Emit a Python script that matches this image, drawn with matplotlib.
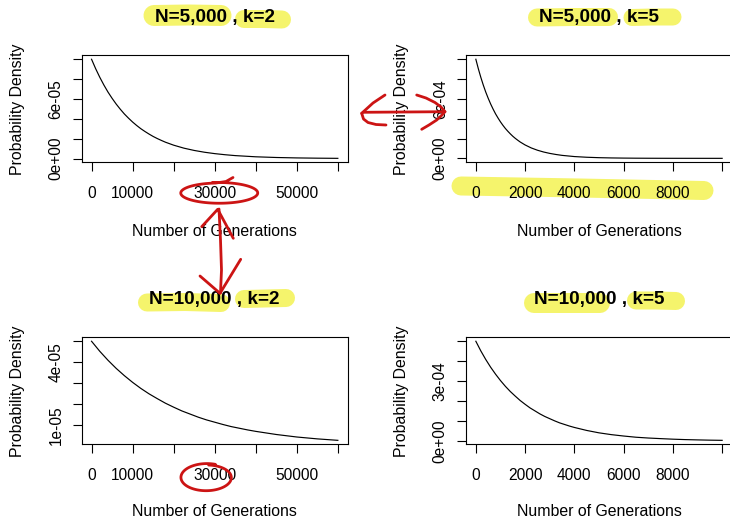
import numpy as np
import matplotlib
matplotlib.use("Agg")
import matplotlib.pyplot as plt

plt.rcParams["font.family"] = ["Liberation Sans", "DejaVu Sans"]

# coalescence-time densities, sampled at a set of generations
gens_n5k_k2 = [0, 1000, 2000, 3000, 4000, 5000, 6000, 7000, 8000, 9000, 10000,
               11000, 12000, 13000, 14000, 15000, 16000, 17000, 18000, 19000, 20000,
               22500, 25000, 27500, 30000, 32500, 35000, 37500, 40000,
               45000, 50000, 55000, 60000]
dens_n5k_k2 = [1.000e-4, 9.05e-5, 8.19e-5, 7.41e-5, 6.70e-5, 6.07e-5, 5.49e-5,
               4.97e-5, 4.49e-5, 4.07e-5, 3.68e-5, 3.33e-5, 3.01e-5, 2.73e-5,
               2.47e-5, 2.23e-5, 2.02e-5, 1.83e-5, 1.65e-5, 1.50e-5, 1.35e-5,
               1.05e-5, 8.2e-6, 6.4e-6, 5.0e-6, 3.9e-6, 3.0e-6, 2.4e-6, 1.8e-6,
               1.1e-6, 6.7e-7, 4.1e-7, 2.5e-7]

gens_n5k_k5 = [0, 100, 200, 300, 400, 500, 600, 700, 800, 900, 1000,
               1100, 1200, 1300, 1400, 1500, 1600, 1700, 1800, 1900, 2000,
               2250, 2500, 2750, 3000, 3250, 3500, 3750, 4000,
               4500, 5000, 5500, 6000, 6500, 7000, 7500, 8000, 8500, 9000,
               9500, 10000]
dens_n5k_k5 = [1.000e-3, 9.05e-4, 8.19e-4, 7.41e-4, 6.70e-4, 6.07e-4, 5.49e-4,
               4.97e-4, 4.49e-4, 4.07e-4, 3.68e-4, 3.33e-4, 3.01e-4, 2.73e-4,
               2.47e-4, 2.23e-4, 2.02e-4, 1.83e-4, 1.65e-4, 1.50e-4, 1.35e-4,
               1.05e-4, 8.2e-5, 6.4e-5, 5.0e-5, 3.9e-5, 3.0e-5, 2.4e-5, 1.8e-5,
               1.1e-5, 6.7e-6, 4.1e-6, 2.5e-6, 1.5e-6, 9e-7, 5.5e-7, 3.4e-7,
               2.0e-7, 1.2e-7, 7e-8, 4.5e-8]

gens_n10k_k2 = [0, 2000, 4000, 6000, 8000, 10000, 12000, 14000, 16000, 18000,
                20000, 22000, 24000, 26000, 28000, 30000, 32000, 34000, 36000,
                38000, 40000, 45000, 50000, 55000, 60000]
dens_n10k_k2 = [5.00e-5, 4.52e-5, 4.09e-5, 3.70e-5, 3.35e-5, 3.03e-5, 2.74e-5,
                2.48e-5, 2.25e-5, 2.03e-5, 1.84e-5, 1.66e-5, 1.51e-5, 1.36e-5,
                1.23e-5, 1.12e-5, 1.01e-5, 9.1e-6, 8.3e-6, 7.5e-6, 6.8e-6,
                5.3e-6, 4.1e-6, 3.2e-6, 2.5e-6]

gens_n10k_k5 = [0, 200, 400, 600, 800, 1000, 1200, 1400, 1600, 1800, 2000,
                2200, 2400, 2600, 2800, 3000, 3200, 3400, 3600, 3800, 4000,
                4500, 5000, 5500, 6000, 6500, 7000, 7500, 8000, 8500, 9000,
                9500, 10000]
dens_n10k_k5 = [5.00e-4, 4.52e-4, 4.09e-4, 3.70e-4, 3.35e-4, 3.03e-4, 2.74e-4,
                2.48e-4, 2.25e-4, 2.03e-4, 1.84e-4, 1.66e-4, 1.51e-4, 1.36e-4,
                1.23e-4, 1.12e-4, 1.01e-4, 9.1e-5, 8.3e-5, 7.5e-5, 6.8e-5,
                5.3e-5, 4.1e-5, 3.2e-5, 2.5e-5, 1.9e-5, 1.5e-5, 1.2e-5, 9.2e-6,
                7.1e-6, 5.6e-6, 4.3e-6, 3.4e-6]

titles = ["N=5,000 , k=2", "N=5,000 , k=5", "N=10,000 , k=2", "N=10,000 , k=5"]

xticks_long = [0, 10000, 20000, 30000, 40000, 50000, 60000]
xlabels_long = ["0", "10000", "", "30000", "", "50000", ""]
xticks_short = [0, 2000, 4000, 6000, 8000, 10000]
xlabels_short = ["0", "2000", "4000", "6000", "8000", ""]

yticks_n5k_k2 = [0, 2e-5, 4e-5, 6e-5, 8e-5, 1e-4]
ylabels_n5k_k2 = ["0e+00", "", "", "6e-05", "", ""]
yticks_n5k_k5 = [0, 2e-4, 4e-4, 6e-4, 8e-4, 1e-3]
ylabels_n5k_k5 = ["0e+00", "", "", "6e-04", "", ""]
yticks_n10k_k2 = [1e-5, 2e-5, 3e-5, 4e-5, 5e-5]
ylabels_n10k_k2 = ["1e-05", "", "", "4e-05", ""]
yticks_n10k_k5 = [0, 1e-4, 2e-4, 3e-4, 4e-4, 5e-4]
ylabels_n10k_k5 = ["0e+00", "", "", "3e-04", "", ""]

W, H = 730, 519
fig = plt.figure(figsize=(W / 100, H / 100), dpi=100)


def r_lim(vals):
    # base-R style axis range: data range plus 4% each side
    lo, hi = min(vals), max(vals)
    pad = 0.04 * (hi - lo)
    return lo - pad, hi + pad


def draw_panel(rect, x, y, title, xticks, xlabels, yticks, ylabels, xlab_y=-0.575):
    ax = fig.add_axes(rect)
    ax.plot(x, y, color="black", lw=0.85)
    ax.set_xlim(*r_lim(x))
    ax.set_ylim(*r_lim(y))
    ax.set_xticks(xticks, xlabels)
    ax.set_yticks(yticks, ylabels)
    plt.setp(ax.get_yticklabels(), rotation=90, va="center")
    ax.tick_params(direction="out", length=6.3, width=0.8, labelsize=11.2)
    ax.tick_params(axis="x", pad=10.5)
    ax.tick_params(axis="y", pad=6.8)
    for s in ax.spines.values():
        s.set_linewidth(0.8)
    ax.set_title(title, fontsize=13.6, fontweight="bold", pad=23.7)
    ax.set_xlabel("Number of Generations", fontsize=11.4)
    ax.xaxis.set_label_coords(0.5, xlab_y)
    ax.set_ylabel("Probability Density", fontsize=11.4, va="center")
    ax.yaxis.set_label_coords(-0.2425, 0.5)
    return ax


aw, ah = 266 / W, 107 / H
left_l, left_r = 81.7 / W, 466 / W
bot_top, bot_bot = 1 - 162.3 / H, 1 - 444.3 / H

draw_panel([left_l, bot_top, aw, ah], gens_n5k_k2, dens_n5k_k2, titles[0],
           xticks_long, xlabels_long, yticks_n5k_k2, ylabels_n5k_k2)
draw_panel([left_r, bot_top, aw, ah], gens_n5k_k5, dens_n5k_k5, titles[1],
           xticks_short, xlabels_short, yticks_n5k_k5, ylabels_n5k_k5)
# bottom row: axis title nudged up so it stays inside the canvas
draw_panel([left_l, bot_bot, aw, ah], gens_n10k_k2, dens_n10k_k2, titles[2],
           xticks_long, xlabels_long, yticks_n10k_k2, ylabels_n10k_k2, xlab_y=-0.555)
draw_panel([left_r, bot_bot, aw, ah], gens_n10k_k5, dens_n10k_k5, titles[3],
           xticks_short, xlabels_short, yticks_n10k_k5, ylabels_n10k_k5, xlab_y=-0.555)

# highlighter strokes sit underneath the text, pen marks on top
under = fig.add_axes([0, 0, 1, 1], zorder=-1)
over = fig.add_axes([0, 0, 1, 1], zorder=10)
for a in (under, over):
    a.set_xlim(0, W)
    a.set_ylim(H, 0)
    a.axis("off")

yellow = "#f5f46c"
strokes = [
    ([154, 188, 221], [15.5, 15, 15.5], 21),
    ([244, 264, 282], [19, 19, 19.5], 18),
    ([537, 573, 609], [17.5, 17, 17], 18),
    ([632, 652, 673], [17.5, 17, 17], 17),
    ([461, 580, 704], [186, 188, 190.5], 19),
    ([147, 185, 221], [302.5, 302, 303], 18),
    ([244, 265, 286], [299, 298.5, 298], 18),
    ([534, 567, 600], [303, 303, 303], 20),
    ([636, 656, 676], [300.5, 300.5, 301], 18),
]
for xs, ys, thick in strokes:
    under.plot(xs, ys, color=yellow, lw=thick * 0.72, solid_capstyle="round",
               solid_joinstyle="round")

red = "#cc1414"
pen = dict(color=red, lw=2.0, solid_capstyle="round", solid_joinstyle="round")

# loop around the 30000 label, top-left panel (drawn clockwise from the top)
t = np.radians(np.linspace(100, -265, 120))
rx = np.linspace(39, 38, t.size)
ry = np.linspace(10.5, 10.0, t.size)
ex = list(219 + rx * np.cos(t)) + [226, 233]
ey = list(193 - ry * np.sin(t)) + [181.5, 177.5]
over.plot(ex, ey, **pen)

# vertical double arrow between the left panels
over.plot([219, 220.5, 221.5, 220.5], [209, 240, 270, 293], **pen)
over.plot([201.7, 217.7, 233.3], [226.7, 209.3, 238.3], **pen)
over.plot([200, 220, 240.7], [276, 293.3, 259.3], **pen)

# horizontal double arrow between the top panels
over.plot([363, 445], [112.3, 111.7], **pen)
over.plot([385, 373, 361.7], [95, 103, 113.3], **pen)
over.plot([361.7, 363.5, 368, 376, 386], [113.3, 119, 122.5, 124.5, 125], **pen)
over.plot([416.7, 426, 435, 441, 445, 441, 436.7, 429, 421.7],
          [95, 98, 102.5, 107, 111.7, 116, 120, 125, 129.3], **pen)

# loop around the 30000 label, bottom-left panel
t2 = np.radians(np.linspace(70, 445, 120))
rx2 = np.linspace(26, 24.5, t2.size)
ry2 = np.linspace(14, 12.5, t2.size)
cx = 206.5 + rx2 * np.cos(t2)
cy = 477.5 - ry2 * np.sin(t2)
over.plot(cx, cy, **pen)

fig.savefig("out.png", dpi=100)
